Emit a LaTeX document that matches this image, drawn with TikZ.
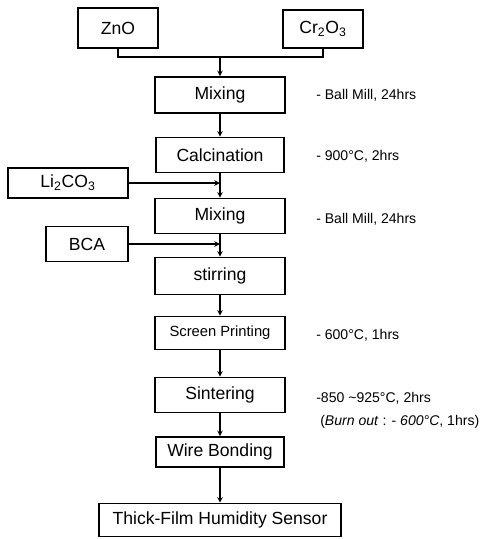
\documentclass[tikz,border=0pt]{standalone}
\usepackage{fontspec}
\setmainfont{Liberation Sans}
\begin{document}
\begin{tikzpicture}[>=stealth,
  box/.style={draw, line width=1.1pt, minimum width=3.25cm, minimum height=0.9cm, inner sep=0pt, font=\fontsize{12.5}{14}\selectfont},
  note/.style={anchor=west, inner sep=0pt, font=\fontsize{10}{12}\selectfont},
  flow/.style={->, line width=0.8pt}]
\useasboundingbox (0,0) rectangle (12.25,-13.475);
% raw materials
\node[box, minimum width=2cm, minimum height=1cm] (zno) at (2.95,-0.7) {ZnO};
\node[box, minimum width=2cm, minimum height=0.95cm] (cro) at (8.075,-0.725) {Cr\textsubscript{2}O\textsubscript{3}};
% main line
\node[box] (mix1) at (5.5,-2.375) {Mixing};
\node[box, minimum width=3.2cm, minimum height=0.875cm] (calc) at (5.5,-3.875) {Calcination};
\node[box, minimum height=0.875cm] (mix2) at (5.5,-5.4) {Mixing};
\node[box, minimum height=0.925cm] (stir) at (5.5,-6.9) {stirring};
\node[box, minimum height=0.825cm, font=\fontsize{10.5}{12}\selectfont] (print) at (5.5,-8.325) {Screen Printing};
\node[box, minimum height=0.875cm] (sinter) at (5.5,-9.875) {Sintering};
\node[box, minimum width=3.2cm, minimum height=0.75cm] (wire) at (5.5,-11.3) {Wire Bonding};
\node[box, minimum width=6.05cm, minimum height=0.825cm] (sensor) at (5.5,-13.0) {Thick-Film Humidity Sensor};
% additives
\node[box, minimum width=3.0cm, minimum height=0.75cm] (li) at (1.7,-4.575) {Li\textsubscript{2}CO\textsubscript{3}};
\node[box, minimum width=2.05cm, minimum height=0.875cm] (bca) at (2.175,-6.1) {BCA};
% conditions
\node[note] (n1) at (7.9,-2.375) {- Ball Mill, 24hrs};
\node[note] (n2) at (7.9,-3.9) {- 900°C, 2hrs};
\node[note] (n3) at (7.9,-5.475) {- Ball Mill, 24hrs};
\node[note] (n4) at (7.9,-8.375) {- 600°C, 1hrs};
\node[note] (n5) at (7.9,-9.95) {-850 \textasciitilde 925°C, 2hrs};
\node[note] (n6) at (8.0,-10.55) {(\textit{Burn out} : - \textit{600°C}, 1hrs)};
% connectors
\coordinate (join) at (5.5,-1.425);
\draw[line width=0.8pt] (zno.south) |- (join) -| (cro.south);
\draw[flow] (join) -- (mix1.north);
\draw[flow] (mix1) -- (calc);
\draw[flow] (calc) -- (mix2);
\draw[flow] (li.east) -- (li.east -| calc.south);
\draw[flow] (mix2) -- (stir);
\draw[flow] (bca.east) -- (bca.east -| mix2.south);
\draw[flow] (stir) -- (print);
\draw[flow] (print) -- (sinter);
\draw[flow] (sinter) -- (wire);
\draw[flow] (wire) -- (sensor);
\end{tikzpicture}
\end{document}
